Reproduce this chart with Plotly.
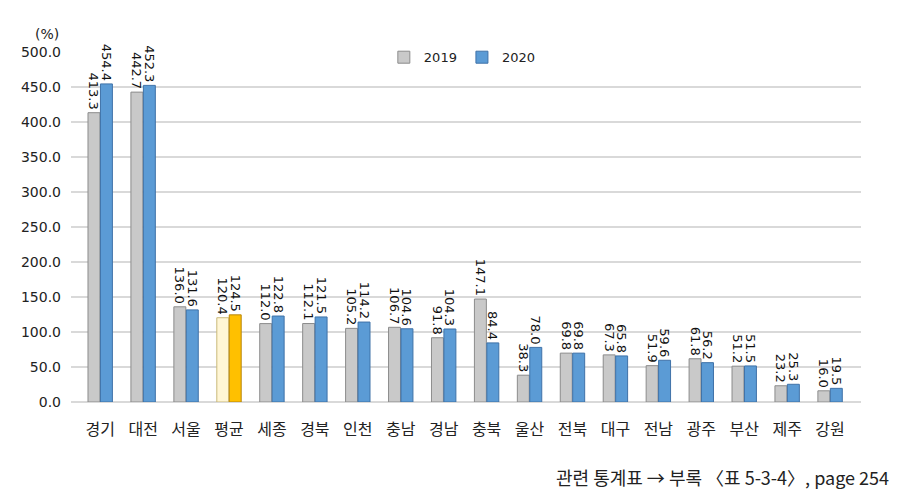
import plotly.graph_objects as go

regions = ['경기', '대전', '서울', '평균', '세종', '경북', '인천', '충남', '경남',
           '충북', '울산', '전북', '대구', '전남', '광주', '부산', '제주', '강원']
y2019 = [413.3, 442.7, 136.0, 120.4, 112.0, 112.1, 105.2, 106.7, 91.8,
         147.1, 38.3, 69.8, 67.3, 51.9, 61.8, 51.2, 23.2, 16.0]
y2020 = [454.4, 452.3, 131.6, 124.5, 122.8, 121.5, 114.2, 104.6, 104.3,
         84.4, 78.0, 69.8, 65.8, 59.6, 56.2, 51.5, 25.3, 19.5]
y_ticks = [0, 50, 100, 150, 200, 250, 300, 350, 400, 450, 500]

num_font = 'DejaVu Sans'
kr_font = 'Noto Sans CJK KR'

# average column gets its own colours
c2019 = ['#FFF6D5' if r == '평균' else '#C9C9C9' for r in regions]
c2020 = ['#FFC000' if r == '평균' else '#5B9BD5' for r in regions]
l2019 = ['#C9B97A' if r == '평균' else '#8C8C8C' for r in regions]
l2020 = ['#B8860B' if r == '평균' else '#3F72A8' for r in regions]

fig = go.Figure()
for name, vals, cols, lines in [('2019', y2019, c2019, l2019),
                                ('2020', y2020, c2020, l2020)]:
    fig.add_trace(go.Bar(x=regions, y=vals, name=name,
                         marker=dict(color=cols, line=dict(color=lines, width=1)),
                         text=[f'{v:.1f}' for v in vals], textposition='outside',
                         textangle=90, cliponaxis=False, constraintext='none',
                         textfont=dict(size=13, color='#111111', family=num_font)))

fig.update_layout(
    width=907, height=496,
    margin=dict(l=63, r=54, t=44, b=102, autoexpand=False),
    plot_bgcolor='white', paper_bgcolor='white',
    barmode='group', bargap=0.42, bargroupgap=0.04,
    font=dict(family=num_font, size=14, color='#222222'),
    showlegend=True,
    legend=dict(orientation='h', x=0.396, y=0.985, xanchor='left', yanchor='middle',
                font=dict(size=13, family=num_font), bgcolor='rgba(0,0,0,0)',
                itemwidth=30, tracegroupgap=0, traceorder='normal'),
    annotations=[
        dict(text='(%)', x=-0.03, y=1.05, xref='paper', yref='paper', showarrow=False,
             font=dict(size=14, color='#222222', family=num_font),
             xanchor='center', yanchor='middle'),
        dict(text='관련 통계표 → 부록 〈표 5-3-4〉, page 254', showarrow=False,
             xref='paper', yref='paper', x=1.038, y=-0.215, xanchor='right', yanchor='middle',
             font=dict(size=18, color='#222222', family=kr_font)),
    ],
)

fig.update_xaxes(range=[-0.68, 17.72], showgrid=False, showline=False, ticks='',
                 ticklabelstandoff=16,
                 tickfont=dict(size=16, family=kr_font, color='#222222'))
fig.update_yaxes(range=[0, 500], tickvals=y_ticks, tickformat='.1f',
                 showgrid=True, gridcolor='#D9D9D9', gridwidth=1.5,
                 zeroline=True, zerolinecolor='#D9D9D9', zerolinewidth=1.5,
                 ticks='', ticklabelstandoff=9,
                 tickfont=dict(size=14, color='#222222', family=num_font))

fig.write_html('out.html')
